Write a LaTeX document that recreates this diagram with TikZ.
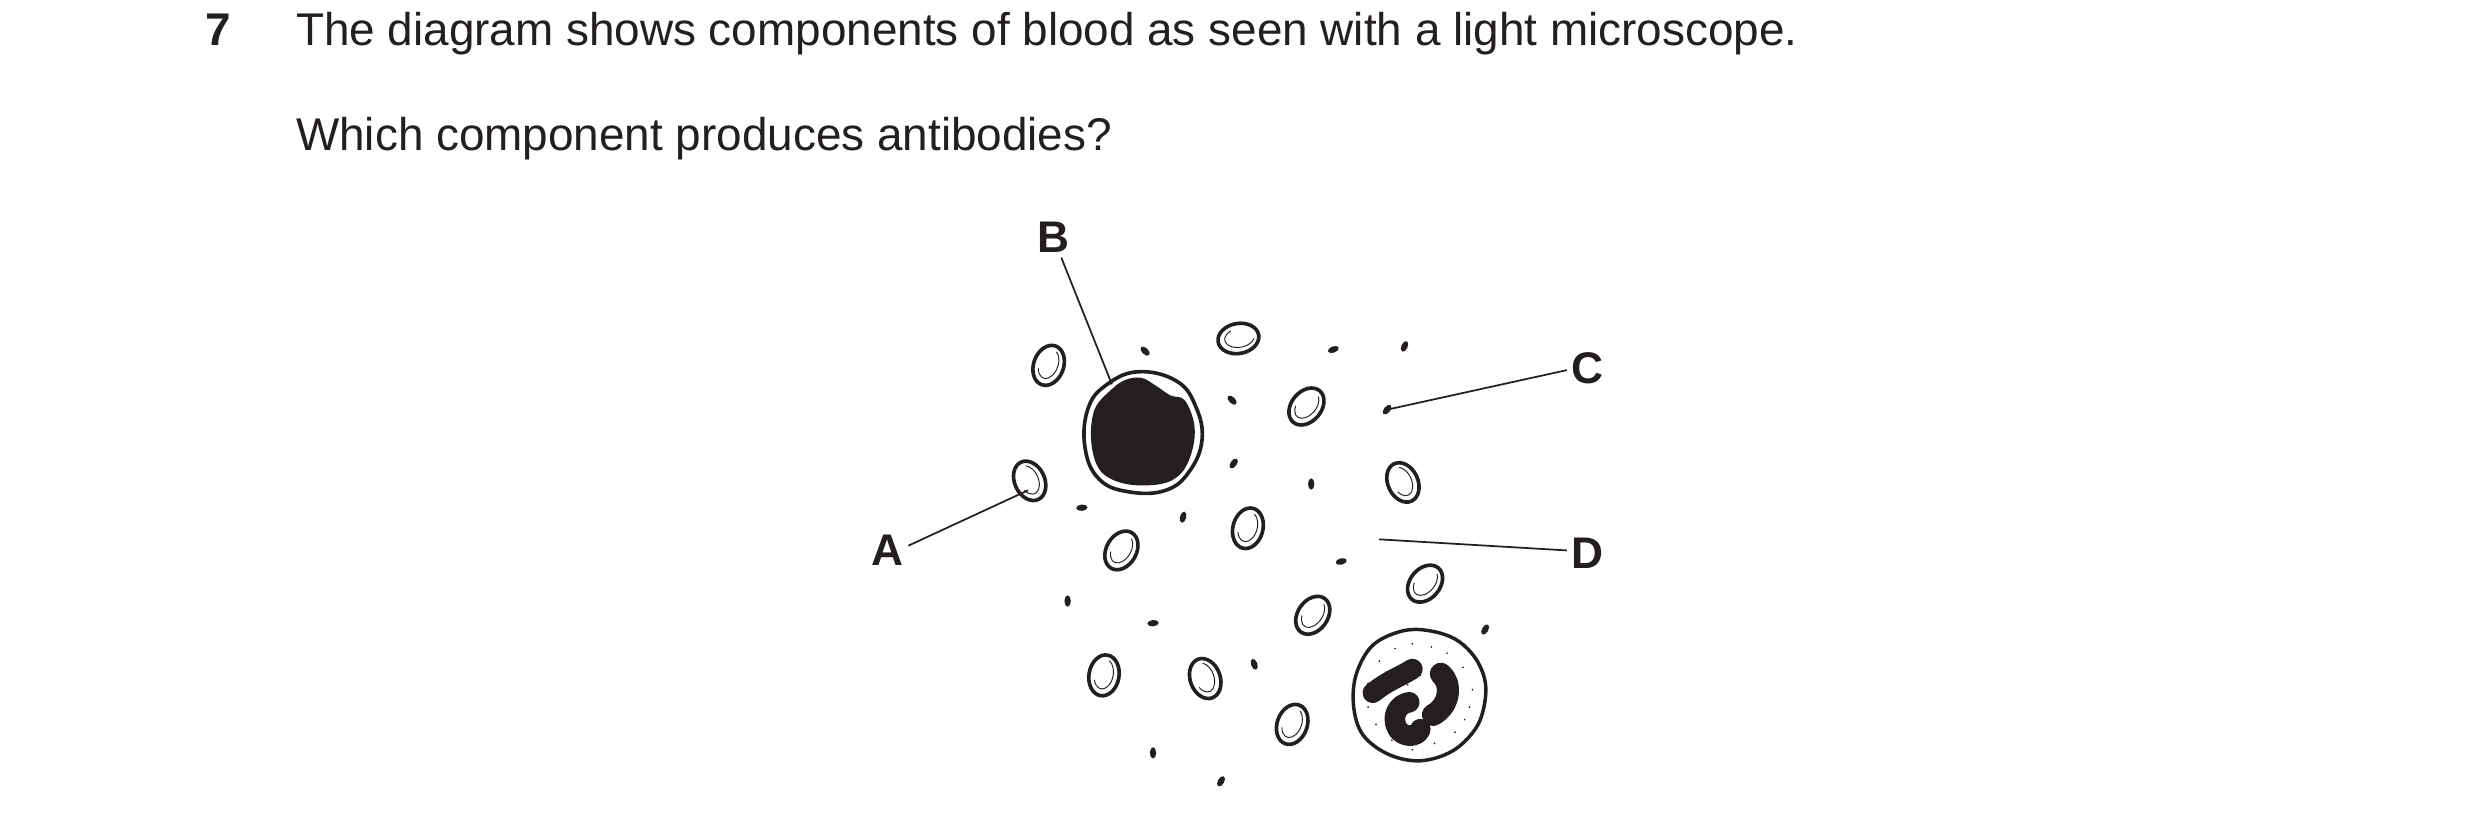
\documentclass[tikz,border=0pt]{standalone}
\usepackage{fontspec}
\setmainfont{Liberation Sans}
\definecolor{ink}{HTML}{231F20}
\begin{document}
\begin{tikzpicture}[x=1pt,y=-1pt,
  lab/.style={font=\fontsize{28}{32}\selectfont\bfseries,text=ink,inner sep=0pt},
  txt/.style={font=\fontsize{29}{34}\selectfont,text=ink,inner sep=0pt,anchor=base west},
  lead/.style={draw=ink,line width=1.1pt},
  plt/.style={fill=ink,draw=none}]
\useasboundingbox (0,0) rectangle (1568,523);
\node[txt,font=\fontsize{29}{34}\selectfont\bfseries] (num) at (130,29) {7};
\node[txt] (q1) at (187,29) {The diagram shows components of blood as seen with a light microscope.};
\node[txt] (q2) at (187,95) {Which component produces antibodies?};
% red cells
\newcommand{\myrbc}[3]{%
 \begin{scope}[shift={(#1,#2)},rotate=#3]
  \draw[ink,line width=2.3pt] (0,0) ellipse [x radius=9.5, y radius=13];
  \draw[ink,line width=0.6pt] (-5.5,4) arc[start angle=150,end angle=-70,x radius=6,y radius=9.5];
 \end{scope}}
\myrbc{663}{231}{-20}
\myrbc{783}{214}{-80}
\myrbc{826}{257}{-40}
\myrbc{651}{304}{25}
\myrbc{887}{305}{25}
\myrbc{709}{348}{-30}
\myrbc{789}{334}{-15}
\myrbc{830}{389}{-35}
\myrbc{901}{369}{-40}
\myrbc{698}{427}{-10}
\myrbc{762}{429}{20}
\myrbc{817}{458}{-20}
% platelets
\newcommand{\myplt}[3]{\fill[ink,rotate around={#3:(#1,#2)}] (#1,#2) ellipse [x radius=2, y radius=3.6];}
\myplt{724}{222}{45}
\myplt{843}{221}{-70}
\myplt{888}{219}{-25}
\myplt{779}{253}{45}
\myplt{877}{259}{-40}
\myplt{780}{293}{-35}
\myplt{829}{306}{0}
\myplt{684}{321}{-85}
\myplt{748}{327}{-15}
\myplt{848}{355}{-75}
\myplt{675}{380}{0}
\myplt{729}{394}{-85}
\myplt{939}{398}{-30}
\myplt{793}{420}{20}
\myplt{729}{476}{0}
\myplt{772}{494}{-30}
% large cell B
\draw[ink,line width=2.3pt] plot[smooth cycle,tension=0.7] coordinates {(700,243) (720,235) (744,241) (756,257) (760,278) (752,298) (737,310) (714,311) (695,303) (686,283) (688,258)};
\fill[ink] plot[smooth cycle,tension=0.6] coordinates {(703,246) (712,240) (722,239) (731,244) (740,250) (749,253) (755,268) (754,284) (747,299) (734,306) (712,306) (696,298) (690,280) (692,259)};
% neutrophil
\draw[ink,line width=2.2pt] plot[smooth cycle,tension=0.6] coordinates {(897,398) (918,403) (932,415) (939,431) (938,448) (932,462) (918,475) (898,481) (878,477) (862,465) (856,448) (857,428) (866,410) (880,401)};
\foreach \p in {(882,410),(893,407),(905,409),(915,413),(872,418),(925,422),(865,432),(931,436),(929,447),(865,447),(870,458),(880,468),(893,474),(907,470),(920,463),(926,455),(905,452),(890,433),(898,427),(884,448),(910,443),(876,425),(921,430)}
  \fill[ink] \p circle (0.6);
\draw[ink,line width=13pt,line cap=round,line join=round] (868,438) .. controls (878,430) and (885,428) .. (893,423);
\draw[ink,line width=14pt,line cap=round,line join=round] (911,426) .. controls (918,432) and (917,446) .. (906,452);
\draw[ink,line width=13pt,line cap=round,line join=round] (891,444) .. controls (879,446) and (879,463) .. (890,465) .. controls (894,466) and (898,463) .. (898,461);
% leaders and labels
\node[lab] (A) at (561,348) {A};
\node[lab] (B) at (666,150) {B};
\node[lab] (C) at (1004,233) {C};
\node[lab] (D) at (1004,350) {D};
\coordinate (a) at (650,310);
\coordinate (b) at (703,243);
\coordinate (c) at (877,259);
\coordinate (d) at (872,341);
\draw[lead] (A.east) ++(3,-3) -- (a);
\draw[lead] (B.south) ++(5,3) -- (b);
\draw[lead] (C.west) ++(-3,1) -- (c);
\draw[lead] (D.west) ++(-3,-2) -- (d);
\end{tikzpicture}
\end{document}
